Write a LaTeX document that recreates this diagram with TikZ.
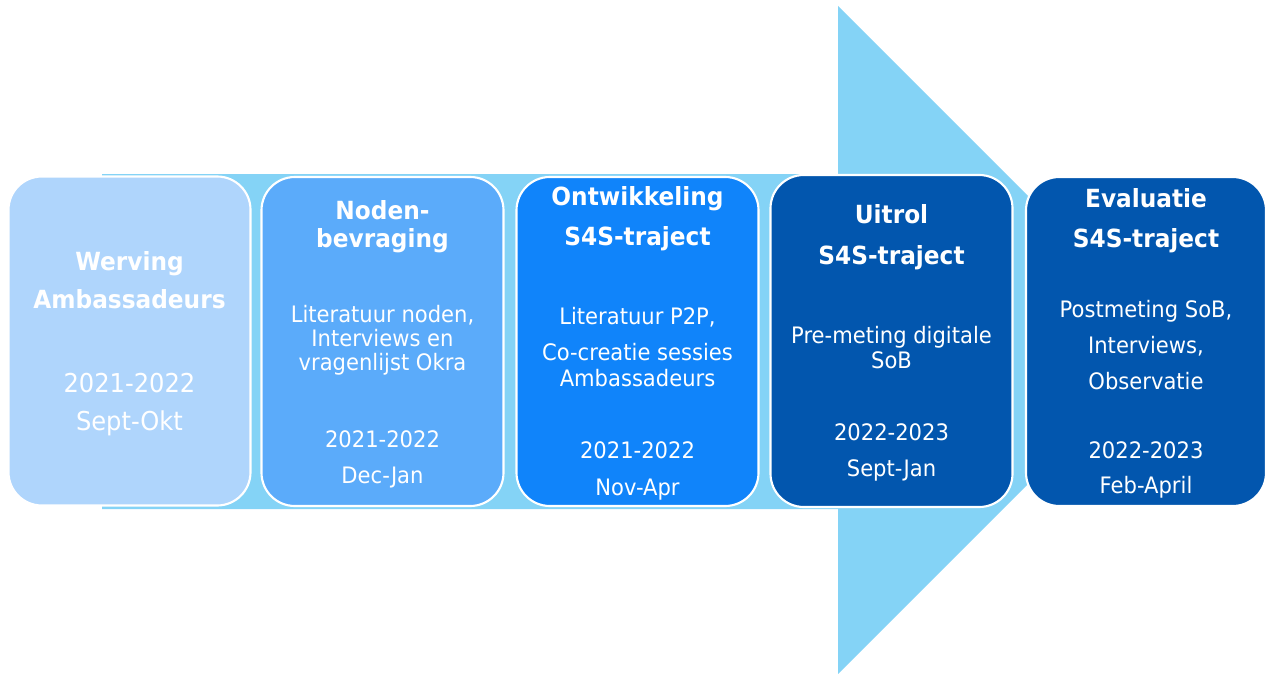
\documentclass[tikz,border=0pt]{standalone}
\usepackage{fontspec}
\setmainfont{DejaVu Sans}[FakeStretch=0.93]
\definecolor{arrowblue}{HTML}{84D3F6}
\definecolor{stepone}{HTML}{AFD5FC}
\definecolor{steptwo}{HTML}{5BABFA}
\definecolor{stepthree}{HTML}{1084FA}
\definecolor{stepfour}{HTML}{0256AE}
\tikzset{
  phase/.style={draw=white, line width=1.6pt, rounded corners=25pt,
    minimum width=181.5pt, minimum height=246.75pt, inner sep=0pt},
  phasetitle/.style={text=white, align=center, inner sep=0pt, anchor=base,
    font=\bfseries\fontsize{18.75}{30}\selectfont},
  phasetext/.style={text=white, align=center, inner sep=0pt, anchor=base,
    font=\fontsize{17}{18}\selectfont},
  phasedate/.style={text=white, align=center, inner sep=0pt, anchor=base,
    font=\fontsize{17}{27}\selectfont}
}
\begin{document}
\begin{tikzpicture}[x=0.75pt, y=-0.75pt]
  \useasboundingbox (0,0) rectangle (1266,674);
  % big arrow behind the phases
  \fill[arrowblue] (102,174) -- (838,174) -- (838,6) -- (1172,340)
    -- (838,674) -- (838,509) -- (102,509) -- cycle;
  % the five phases
  \node[phase, fill=stepone] (werving) at (129.5,341) {};
  \node[phase, fill=steptwo] (noden) at (382.5,341.5) {};
  \node[phase, fill=stepthree] (ontwikkeling) at (637.5,341.5) {};
  \node[phase, fill=stepfour, minimum height=249pt] (uitrol) at (891.5,341) {};
  \node[phase, fill=stepfour, minimum width=180pt] (evaluatie) at (1146,341.5) {};
  % texts (base = last line)
  \node[phasetitle, font=\bfseries\fontsize{18.75}{28.5}\selectfont]
    (werving-title) at (werving |- 0,308) {Werving\\Ambassadeurs};
  \node[phasedate, font=\fontsize{19.5}{28.5}\selectfont]
    (werving-date) at (werving |- 0,430) {2021-2022\\Sept-Okt};

  \node[phasetitle, font=\bfseries\fontsize{18.75}{21}\selectfont]
    (noden-title) at (noden |- 0,247) {Noden-\\bevraging};
  \node[phasetext] (noden-text) at (noden |- 0,370.7)
    {Literatuur noden,\\Interviews en\\vragenlijst Okra};
  \node[phasedate] (noden-date) at (noden |- 0,483) {2021-2022\\Dec-Jan};

  \node[phasetitle] (ontwikkeling-title) at (ontwikkeling |- 0,245)
    {Ontwikkeling\\S4S-traject};
  \node[phasetext, font=\fontsize{17}{19.5}\selectfont] (ontwikkeling-text)
    at (ontwikkeling |- 0,386)
    {Literatuur P2P,\\[7pt]Co-creatie sessies\\Ambassadeurs};
  \node[phasedate, font=\fontsize{17}{27.75}\selectfont] (ontwikkeling-date)
    at (ontwikkeling |- 0,495) {2021-2022\\Nov-Apr};

  \node[phasetitle, font=\bfseries\fontsize{18.75}{30.75}\selectfont]
    (uitrol-title) at (uitrol |- 0,264) {Uitrol\\S4S-traject};
  \node[phasetext, font=\fontsize{17}{18.75}\selectfont] (uitrol-text)
    at (uitrol |- 0,368) {Pre-meting digitale\\SoB};
  \node[phasedate] (uitrol-date) at (uitrol |- 0,476) {2022-2023\\Sept-Jan};

  \node[phasetitle] (evaluatie-title) at (evaluatie |- 0,247)
    {Evaluatie\\S4S-traject};
  \node[phasetext, font=\fontsize{17}{27}\selectfont] (evaluatie-text)
    at (evaluatie |- 0,389) {Postmeting SoB,\\Interviews,\\Observatie};
  \node[phasedate, font=\fontsize{17}{26.25}\selectfont] (evaluatie-date)
    at (evaluatie |- 0,493) {2022-2023\\Feb-April};
\end{tikzpicture}
\end{document}
